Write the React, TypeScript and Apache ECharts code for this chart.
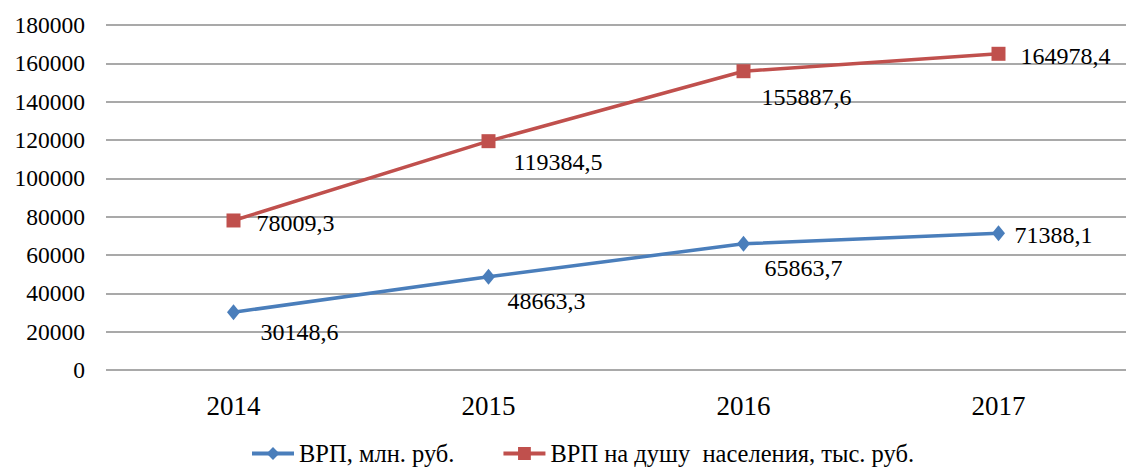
import React, { useEffect, useRef } from "react";
import * as echarts from "echarts";

const years = ["2014", "2015", "2016", "2017"];
const grpValues = [30148.6, 48663.3, 65863.7, 71388.1];
const grpPerCapita = [78009.3, 119384.5, 155887.6, 164978.4];
const seriesNames = ["ВРП, млн. руб.", "ВРП на душу  населения, тыс. руб."];

// label offsets (relative to point centre: left edge x, middle y)
const blueLabelOffsets = [[27, 20], [19, 24], [21, 24], [16, 2]];
const redLabelOffsets = [[23, 3], [25, 21], [18, 26], [22, 2]];

const FONT = "Times New Roman, Liberation Serif, serif";
const fmt = (v: number) => v.toFixed(1).replace(".", ",");

export default function App() {
  const ref = useRef<HTMLDivElement>(null);
  useEffect(() => {
    if (!ref.current) return;
    const chart = echarts.init(ref.current, null, { renderer: "svg" });
    const blueW = 13;
    const redW = 14;
    const labelBase = {
      show: true,
      position: "right",
      distance: 0,
      align: "left",
      verticalAlign: "middle",
      fontFamily: FONT,
      fontSize: 24,
      color: "#000",
      formatter: (p: any) => fmt(p.value),
    };
    chart.setOption({
      animation: false,
      backgroundColor: "#ffffff",
      textStyle: { fontFamily: FONT },
      grid: { left: 106, right: -7, top: 25, bottom: 97, containLabel: false },
      legend: {
        bottom: -4,
        left: 245,
        itemWidth: 42,
        itemHeight: 16,
        itemGap: 47,
        lineStyle: { width: 4 },
        textStyle: { fontFamily: FONT, fontSize: 24.5, color: "#000" },
        data: seriesNames,
      },
      xAxis: {
        type: "category",
        data: years,
        boundaryGap: true,
        axisLine: { show: false },
        axisTick: { show: false },
        axisLabel: { fontFamily: FONT, fontSize: 27, color: "#000", margin: 22 },
      },
      yAxis: {
        type: "value",
        min: 0,
        max: 180000,
        interval: 20000,
        axisLine: { show: false },
        axisTick: { show: false },
        axisLabel: {
          fontFamily: FONT,
          fontSize: 23.5,
          color: "#000",
          margin: 21,
          formatter: (v: number) => String(v),
        },
        splitLine: { lineStyle: { color: "#8c8c8c", width: 1.5 } },
      },
      series: [
        {
          name: seriesNames[0],
          type: "line",
          data: grpValues.map((v, i) => ({
            value: v,
            label: { offset: [blueLabelOffsets[i][0] - blueW / 2, blueLabelOffsets[i][1]] },
          })),
          symbol: "diamond",
          symbolSize: [blueW, 16],
          showAllSymbol: true,
          color: "#4A7EBB",
          lineStyle: { color: "#4A7EBB", width: 3.5 },
          itemStyle: { color: "#4A7EBB" },
          label: labelBase,
        },
        {
          name: seriesNames[1],
          type: "line",
          data: grpPerCapita.map((v, i) => ({
            value: v,
            label: { offset: [redLabelOffsets[i][0] - redW / 2, redLabelOffsets[i][1]] },
          })),
          symbol: "rect",
          symbolSize: redW,
          showAllSymbol: true,
          color: "#C0504D",
          lineStyle: { color: "#C0504D", width: 3.5 },
          itemStyle: { color: "#C0504D" },
          label: labelBase,
        },
      ],
    });
    return () => chart.dispose();
  }, []);
  return (
    <div
      ref={ref}
      style={{ position: "fixed", left: 0, top: 0, width: 1126, height: 467, background: "#fff" }}
    />
  );
}
